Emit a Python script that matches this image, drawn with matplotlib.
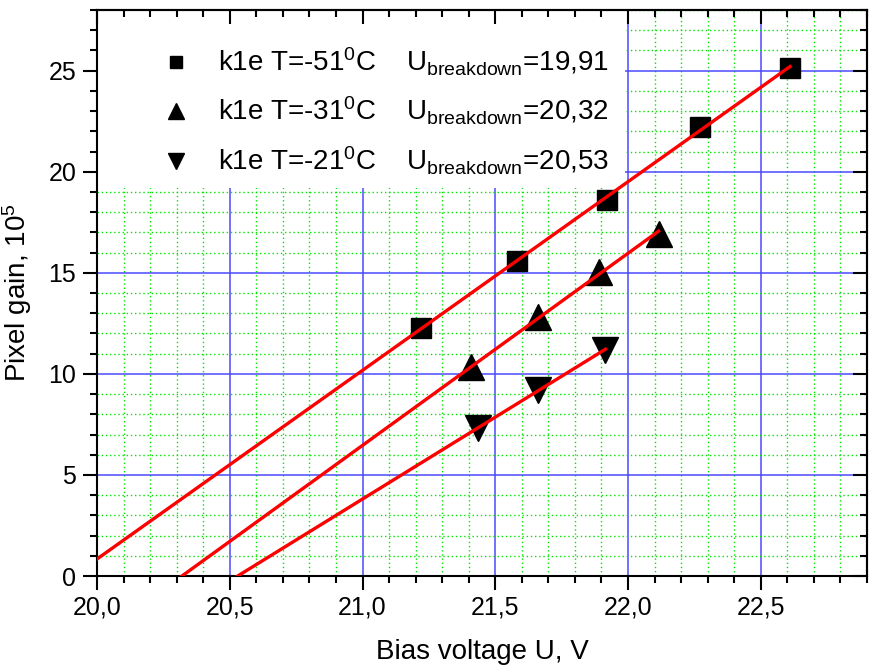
import numpy as np
import matplotlib
matplotlib.use("Agg")
import matplotlib.pyplot as plt
from matplotlib.ticker import MultipleLocator
from matplotlib.patches import Rectangle

plt.rcParams['font.family'] = ['Liberation Sans', 'DejaVu Sans']
plt.rcParams['mathtext.fontset'] = 'custom'
plt.rcParams['mathtext.rm'] = 'Liberation Sans'
plt.rcParams['mathtext.it'] = 'Liberation Sans:italic'

# data
u_51 = [21.22, 21.58, 21.92, 22.27, 22.61]
g_51 = [12.25, 15.6, 18.6, 22.2, 25.15]
u_31 = [21.41, 21.66, 21.89, 22.115]
g_31 = [10.35, 12.8, 15.05, 16.9]
u_21 = [21.435, 21.66, 21.915]
g_21 = [7.3, 9.2, 11.2]

temps = [-51, -31, -21]
u_breakdown = [19.91, 20.32, 20.53]
markers = ['s', '^', 'v']

x_ticks = [20.0, 20.5, 21.0, 21.5, 22.0, 22.5]
x_tick_labels = ['20,0', '20,5', '21,0', '21,5', '22,0', '22,5']
y_ticks = [0, 5, 10, 15, 20, 25]

series = [(u_51, g_51), (u_31, g_31), (u_21, g_21)]

fig = plt.figure(figsize=(8.72, 6.70), dpi=100)
ax = fig.add_axes([97 / 872, 94 / 670, 770 / 872, 566 / 670])

handles = []
for (u, g), t, ub, m in zip(series, temps, u_breakdown, markers):
    u = np.array(u)
    g = np.array(g)
    # line through the breakdown voltage (gain = 0)
    k = np.sum((u - ub) * g) / np.sum((u - ub) ** 2)
    xl = np.array([19.5, u.max()])
    ax.plot(xl, k * (xl - ub), color='#ff0000', lw=2.4, zorder=4)
    ms = 15 if m == 's' else 19
    lab = ('k1e T=%d$^{\\mathrm{0}}$C    U$_{\\mathrm{breakdown}}$=%s'
           % (t, ('%.2f' % ub).replace('.', ',')))
    h, = ax.plot(u, g, ls='none', marker=m, ms=ms, color='black', zorder=3,
                 label=lab)
    handles.append(h)

ax.set_xlim(20.0, 22.9)
ax.set_ylim(0, 28)
ax.set_xticks(x_ticks)
ax.set_xticklabels(x_tick_labels)
ax.set_yticks(y_ticks)
ax.xaxis.set_minor_locator(MultipleLocator(0.1))
ax.yaxis.set_minor_locator(MultipleLocator(1))

ax.grid(which='major', color='#4a4aff', lw=1.1)
ax.grid(which='minor', color='#00e600', lw=1.0, ls=(0, (1, 2)))

ax.tick_params(which='both', direction='out', width=1.5, labelsize=18,
               top=False, right=False)
ax.tick_params(which='major', length=10)
ax.tick_params(which='minor', length=5)
ax.tick_params(axis='x', pad=4)
ax.tick_params(axis='y', pad=5)
for s in ax.spines.values():
    s.set_linewidth(1.5)

# inward ticks on top and right
secx = ax.secondary_xaxis('top')
secx.set_xticks(x_ticks)
secx.xaxis.set_minor_locator(MultipleLocator(0.1))
secx.tick_params(which='both', direction='in', width=1.5, labeltop=False)
secx.tick_params(which='major', length=10)
secx.tick_params(which='minor', length=5)
secx.spines['top'].set_linewidth(1.5)
secx.set_zorder(5)
secy = ax.secondary_yaxis('right')
secy.set_yticks(y_ticks)
secy.yaxis.set_minor_locator(MultipleLocator(1))
secy.tick_params(which='both', direction='in', width=1.5, labelright=False)
secy.tick_params(which='major', length=10)
secy.tick_params(which='minor', length=5)
secy.spines['right'].set_linewidth(1.5)
secy.set_zorder(5)

# white legend box over the grid
ax.add_patch(Rectangle((0, 0.686), 0.686, 0.4, transform=ax.transAxes,
                       facecolor='white', edgecolor='none', zorder=2))
leg = ax.legend(handles=handles, loc='upper left', bbox_to_anchor=(0.07, 0.957),
                frameon=False, fontsize=20, markerscale=0.6,
                handlelength=1.0, handletextpad=1.0, labelspacing=0.62,
                borderaxespad=0)
leg.set_zorder(6)

ax.set_xlabel('Bias voltage U, V', fontsize=20, labelpad=14)
ax.set_ylabel('Pixel gain, 10$^{5}$', fontsize=20, labelpad=10)

fig.savefig('out.png', dpi=100)
